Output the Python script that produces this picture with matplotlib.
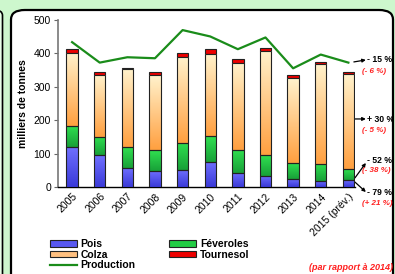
import matplotlib
matplotlib.use("Agg")
import matplotlib.pyplot as plt
import numpy as np
from matplotlib.patches import FancyBboxPatch, Patch
from matplotlib.lines import Line2D
from matplotlib.colors import LinearSegmentedColormap

plt.rcParams['font.family'] = ['Liberation Sans', 'DejaVu Sans']

years = ["2005", "2006", "2007", "2008", "2009", "2010", "2011", "2012", "2013", "2014", "2015 (prév.)"]
pois = [119, 95, 58, 49, 51, 75, 42, 35, 26, 18, 22]
feveroles = [64, 54, 61, 62, 82, 77, 69, 61, 46, 51, 32]
colza = [219, 185, 234, 223, 257, 245, 261, 312, 253, 298, 283]
tournesol = [10, 9, 3, 9, 12, 15, 10, 9, 9, 6, 8]
production = [433, 372, 388, 385, 469, 450, 412, 447, 355, 396, 372]

main_labels = ["- 15 %", "+ 30 %", "- 52 %", "- 79 %"]
red_labels = ["(- 6 %)", "(- 5 %)", "(- 38 %)", "(+ 21 %)"]
note = "(par rapport à 2014)"

W, H = 395, 274
fig = plt.figure(figsize=(W / 100, H / 100), dpi=100)
fig.patch.set_facecolor('#cdf7cd')

# panels
panel = FancyBboxPatch((11 / W, -0.2), (393 - 11) / W, (1.2 - 10 / H),
                       boxstyle="round,pad=0,rounding_size=0.035",
                       transform=fig.transFigure, facecolor='white',
                       edgecolor='black', linewidth=1.6, zorder=-5)
fig.patches.append(panel)
panel2 = FancyBboxPatch((-0.2, -0.2), 0.2 + 2.5 / W, (1.2 - 10 / H),
                        boxstyle="round,pad=0,rounding_size=0.02",
                        transform=fig.transFigure, facecolor='#e8ffe8',
                        edgecolor='black', linewidth=1.2, zorder=-5)
fig.patches.append(panel2)

ax = fig.add_axes([58 / W, 1 - 187.3 / H, (355 - 58) / W, (187.3 - 19.7) / H])
ax.set_zorder(2)
ax.set_facecolor('none')
x = np.arange(len(years))
bw = 0.41

p = np.array(pois)
f = np.array(feveroles)
c = np.array(colza)
t = np.array(tournesol)

edge = '#222222'
b1 = ax.bar(x, p, bw, color='#5858f0', edgecolor=edge, linewidth=0.8, zorder=3)
b2 = ax.bar(x, f, bw, bottom=p, color='#22cc44', edgecolor=edge, linewidth=0.8, zorder=3)
b3 = ax.bar(x, c, bw, bottom=p + f, color='#ffc080', edgecolor=edge, linewidth=0.8, zorder=3)
b4 = ax.bar(x, t, bw, bottom=p + f + c, color='#ee0000', edgecolor=edge, linewidth=0.8, zorder=3)

def gradient(bars, top_col, bot_col):
    cmap = LinearSegmentedColormap.from_list('g', [bot_col, top_col])
    grad = np.linspace(0, 1, 64).reshape(-1, 1)
    for b in bars:
        x0, y0 = b.get_x(), b.get_y()
        w, h = b.get_width(), b.get_height()
        im = ax.imshow(grad, cmap=cmap, aspect='auto', origin='lower',
                       extent=(x0, x0 + w, y0, y0 + h), zorder=3.5)
        im.set_clip_path(b)
        b.set_facecolor('none')
        b.set_zorder(4)

gradient(b1, '#7070ff', '#3a3ad8')
gradient(b2, '#30e050', '#18a038')
gradient(b3, '#fff2cc', '#ffa040')

ax.plot(x, production, color='#1a8c1a', linewidth=1.6, zorder=5)

ax.set_xlim(-0.51, 10.24)
ax.set_ylim(0, 500)
ax.set_yticks([0, 100, 200, 300, 400, 500])
ax.tick_params(axis='y', labelsize=7.5, length=3, width=0.8, color='#666666', pad=2)
ax.set_xticks(x)
ax.set_xticklabels(years, rotation=45, ha='right', rotation_mode='anchor', fontsize=7.5)
ax.tick_params(axis='x', length=0, pad=3)
for s in ['top', 'right']:
    ax.spines[s].set_visible(False)
ax.spines['left'].set_color('#777777')
ax.spines['left'].set_linewidth(1.2)
ax.spines['bottom'].set_color('black')
ax.spines['bottom'].set_linewidth(1.0)
ax.set_ylabel("milliers de tonnes", fontsize=7.5, fontweight='bold', labelpad=4)

# annotations
px = 27.65  # px per category

def dx(pxpos):
    return (pxpos - 72) / px

def dy(pypos):
    return (187.3 - pypos) / 0.335

anno = [
    ((dx(354), dy(62)), (dx(366), dy(60)), dy(60), dy(72)),
    ((dx(352), dy(119)), (dx(366), dy(119)), dy(120), dy(131)),
    ((dx(355), dy(178)), (dx(366), dy(163)), dy(161), dy(171)),
    ((dx(355), dy(182)), (dx(366), dy(192)), dy(192), dy(203)),
]
for (xy, xyt, ty, ry), ml, rl in zip(anno, main_labels, red_labels):
    ax.annotate("", xy=xyt, xytext=xy, annotation_clip=False,
                arrowprops=dict(arrowstyle='-|>', color='black', lw=0.9,
                                mutation_scale=5, shrinkA=0, shrinkB=0))
    ax.text(dx(367), ty, ml, fontsize=6.2, fontweight='bold', ha='left', va='center',
            clip_on=False)
    ax.text(dx(362), ry, rl, fontsize=5.8, fontweight='bold', style='italic',
            color='#ff2020', ha='left', va='center', clip_on=False)

fig.text(351 / W, 1 - 268 / H, note, fontsize=6.5, fontweight='bold', style='italic',
         color='#ff2020', ha='center', va='center')

handles = [Patch(facecolor='#5858f0', edgecolor=edge, linewidth=0.8),
           Patch(facecolor='#ffc080', edgecolor=edge, linewidth=0.8),
           Line2D([], [], color='#1a8c1a', linewidth=1.6),
           Patch(facecolor='#22cc44', edgecolor=edge, linewidth=0.8),
           Patch(facecolor='#ee0000', edgecolor=edge, linewidth=0.8)]
labels = ["Pois", "Colza", "Production", "Féveroles", "Tournesol"]
leg = fig.legend(handles, labels, ncol=2, loc='upper left',
                 bbox_to_anchor=(50 / W, 1 - 239 / H), frameon=False,
                 prop={'weight': 'bold', 'size': 7.5},
                 handlelength=2.6, handleheight=0.6, handletextpad=0.35,
                 labelspacing=0.05, columnspacing=3.2, borderpad=0, borderaxespad=0)

fig.savefig("out.png", dpi=100, facecolor=fig.get_facecolor())
